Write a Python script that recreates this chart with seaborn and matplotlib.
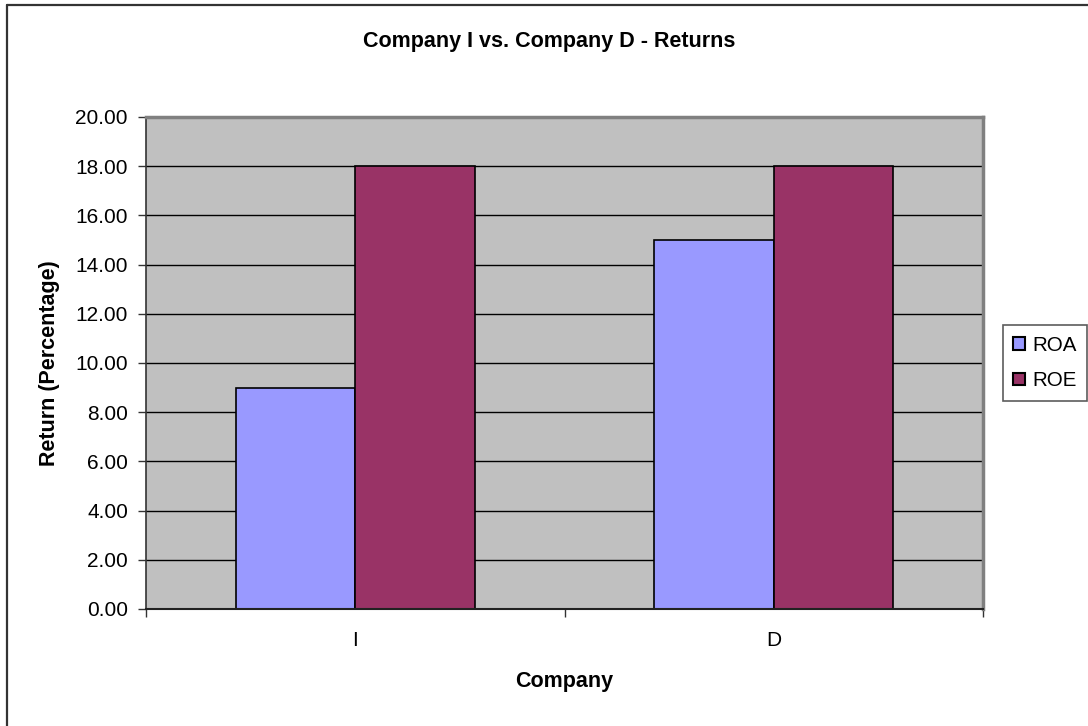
import matplotlib
matplotlib.use("Agg")
import matplotlib.pyplot as plt
from matplotlib.patches import Patch
from matplotlib.lines import Line2D
import pandas as pd
import seaborn as sns

# Return figures per company
companies = ["I", "D"]
roa = [9.0, 15.0]
roe = [18.0, 18.0]
metrics = ["ROA", "ROE"]
colors = ["#9999FF", "#993366"]
y_ticks = [0, 2, 4, 6, 8, 10, 12, 14, 16, 18, 20]

df = pd.DataFrame({
    "Company": companies * 2,
    "Metric": ["ROA"] * len(companies) + ["ROE"] * len(companies),
    "Return": roa + roe,
})

sns.set_theme(style="white")
plt.rcParams["font.family"] = ["Liberation Sans", "DejaVu Sans"]
plt.rcParams.update({
    "text.color": "black",
    "axes.labelcolor": "black",
    "xtick.labelcolor": "black",
    "ytick.labelcolor": "black",
})

W, H = 1088, 726
fig = plt.figure(figsize=(W / 100, H / 100), dpi=100)
fig.patch.set_facecolor("white")

# plot area in pixel coordinates
left, right, top, bottom = 146, 983, 117, 609
ax = fig.add_axes([left / W, 1 - bottom / H, (right - left) / W, (bottom - top) / H])
ax.set_facecolor("#C0C0C0")

sns.barplot(
    data=df, x="Company", y="Return", hue="Metric", order=companies,
    hue_order=metrics, palette=colors, width=0.57, gap=0,
    edgecolor="black", linewidth=1.2, saturation=1, ax=ax, legend=False,
)

ax.set_xlim(-0.5, len(companies) - 0.5)
ax.set_ylim(0, 20)
ax.set_yticks(y_ticks)
ax.set_yticklabels([f"{v:.2f}" for v in y_ticks], fontsize=15)
ax.yaxis.grid(True, color="#000000", linewidth=1.0)
ax.set_axisbelow(True)

# category labels without marks, boundary marks between categories
ax.set_xticks(range(len(companies)))
ax.set_xticklabels(companies, fontsize=15)
ax.tick_params(axis="x", which="major", length=0, pad=16)
ax.set_xticks([i - 0.5 for i in range(len(companies) + 1)], minor=True)
ax.tick_params(axis="x", which="minor", length=5.8, width=1, color="#333333", direction="out", bottom=True)
ax.tick_params(axis="y", length=5.8, width=1, color="#333333", direction="out", left=True, pad=7.2)

for side in ["top", "right"]:
    ax.spines[side].set_color("#808080")
    ax.spines[side].set_linewidth(2.5)
ax.spines["left"].set_color("#333333")
ax.spines["left"].set_linewidth(1.2)
ax.spines["bottom"].set_color("#222222")
ax.spines["bottom"].set_linewidth(1.5)

ax.set_xlabel("Company", fontsize=15.5, fontweight="bold")
ax.set_ylabel("Return (Percentage)", fontsize=15.5, fontweight="bold")
ax.xaxis.set_label_coords(0.5, -(682 - bottom) / (bottom - top))
ax.xaxis.label.set_va("center")
ax.yaxis.set_label_coords(-(left - 50) / (right - left), 0.5)
ax.yaxis.label.set_va("center")

fig.text(549 / W, 1 - 42 / H, "Company I vs. Company D - Returns",
         ha="center", va="center", fontsize=15.5, fontweight="bold")

handles = [Patch(facecolor=c, edgecolor="black", linewidth=1.5) for c in colors]
leg = fig.legend(
    handles, metrics, loc="center left", bbox_to_anchor=(1003 / W, 1 - 363 / H),
    fontsize=14.8, frameon=True, fancybox=False, shadow=False,
    handlelength=0.57, handleheight=0.57, handletextpad=0.35,
    labelspacing=0.81, borderpad=0.5, borderaxespad=0,
)
leg.get_frame().set_edgecolor("#333333")
leg.get_frame().set_linewidth(1.2)

# outer chart border (extends past the right and bottom edges)
fig.add_artist(Line2D([7 / W, 7 / W], [1 - 5 / H, 0], color="#333333", linewidth=1.6))
fig.add_artist(Line2D([7 / W, 1], [1 - 5 / H, 1 - 5 / H], color="#333333", linewidth=1.6))

fig.savefig("out.png", dpi=100, facecolor="white")
